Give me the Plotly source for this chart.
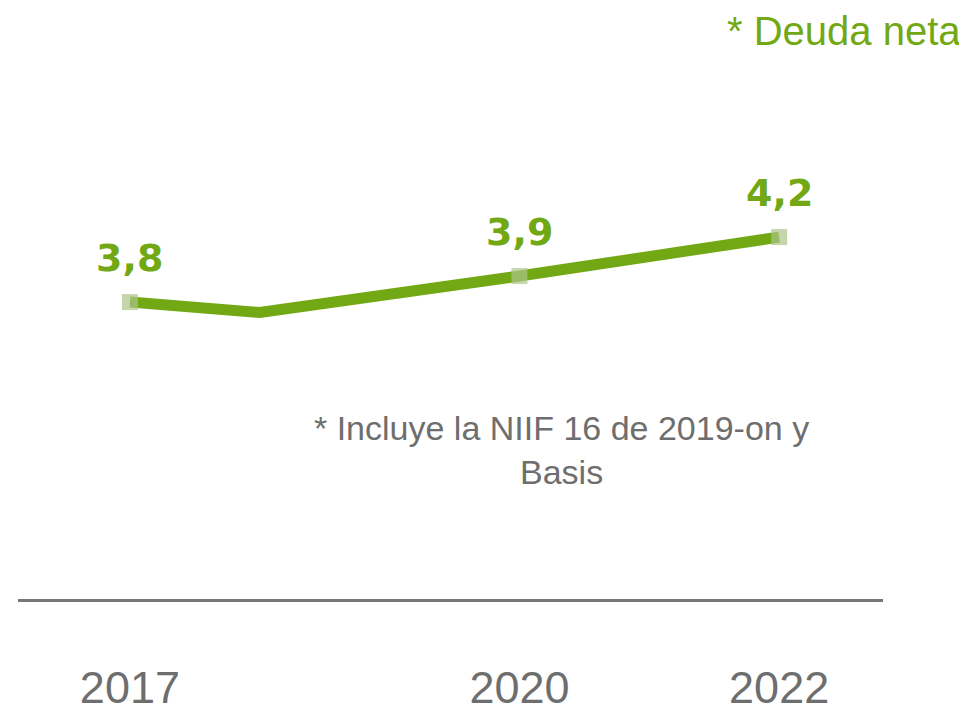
import plotly.graph_objects as go

# Data
years = [2017, 2018, 2020, 2022]
deuda_neta = [3.80, 3.76, 3.90, 4.05]
labels = ["3,8", "", "3,9", "4,2"]
marker_sizes = [16, 0, 16, 16]
tick_years = [2017, 2020, 2022]
tick_text = ["2017", "2020", "2022"]
title_text = "* Deuda neta"
note_text = "* Incluye la NIIF 16 de 2019-on y<br>Basis"

LINE_GREEN = "#72a814"
MARKER_GREEN = "#adc489"
GREY = "#6e6e6e"

fig = go.Figure()
fig.add_trace(go.Scatter(
    x=years, y=deuda_neta,
    mode="lines+markers",
    line=dict(color=LINE_GREEN, width=11),
    marker=dict(symbol="square", size=marker_sizes, color=MARKER_GREEN,
                line=dict(width=0)),
    cliponaxis=False,
    showlegend=False,
    hoverinfo="skip",
))

annotations = []
for x, y, t in zip(years, deuda_neta, labels):
    if t:
        annotations.append(dict(
            x=x, y=y, xref="x", yref="y", text=t, showarrow=False,
            xanchor="center", yanchor="bottom", yshift=20,
            font=dict(family="DejaVu Sans", size=38, color=LINE_GREEN, weight="bold"),
        ))

annotations += [
    dict(text=title_text, xref="paper", yref="paper",
         x=1.0925, y=0.961, xanchor="right", yanchor="middle",
         showarrow=False,
         font=dict(family="Liberation Sans, Arial", size=40, color=LINE_GREEN)),
    dict(text=note_text, xref="paper", yref="paper",
         x=0.628, y=0.252, xanchor="center", yanchor="middle",
         showarrow=False, align="center",
         font=dict(family="Liberation Sans, Arial", size=34, color=GREY)),
]

fig.update_layout(
    width=959, height=698,
    margin=dict(l=10, r=84, t=0, b=107),
    paper_bgcolor="white",
    plot_bgcolor="white",
    xaxis=dict(
        range=[2016.138, 2022.8],
        tickvals=tick_years,
        ticktext=tick_text,
        showgrid=False, zeroline=False,
        showline=True, linecolor="#777777", linewidth=3,
        ticks="",
        ticklabelstandoff=47,
        automargin=False,
        tickfont=dict(family="Liberation Sans, Arial", size=45, color=GREY),
    ),
    yaxis=dict(
        range=[2.658, 4.931],
        visible=False, showgrid=False, zeroline=False,
        automargin=False,
    ),
    annotations=annotations,
)

fig.write_html("out.html")
